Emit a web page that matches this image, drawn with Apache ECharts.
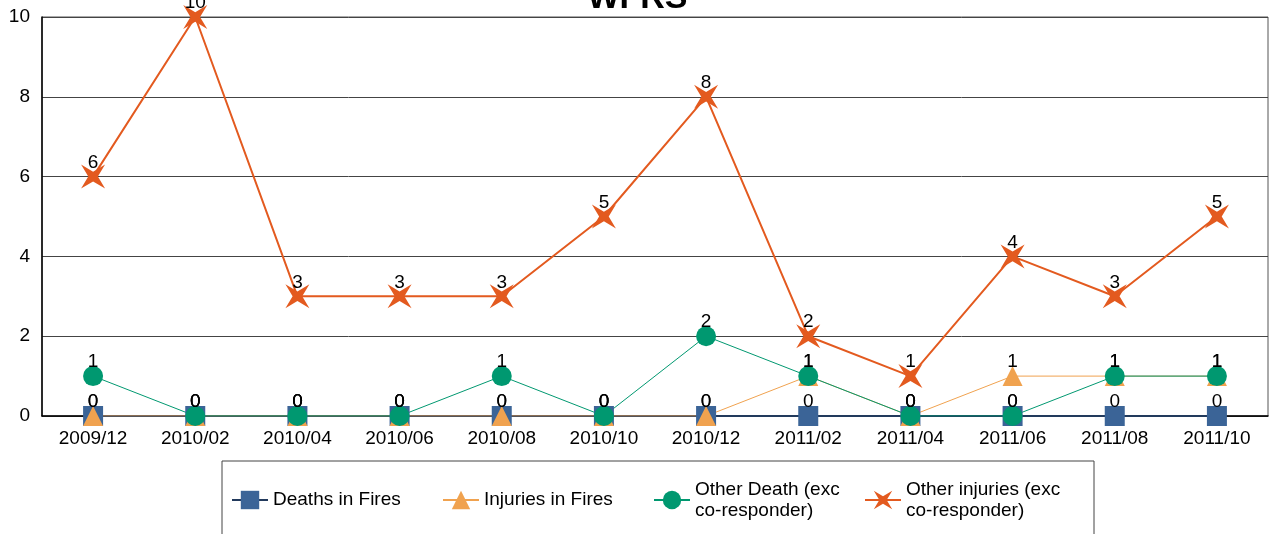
<!DOCTYPE html>
<html>
<head>
<meta charset="utf-8">
<script src="https://cdn.jsdelivr.net/npm/echarts@6/dist/echarts.min.js"></script>
<style>
  html, body { margin: 0; padding: 0; background: #fff; }
  #chart { width: 1275px; height: 534px; }
</style>
</head>
<body>
<div id="chart"></div>
<script>
const categories = ['2009/12', '2010/02', '2010/04', '2010/06', '2010/08', '2010/10',
  '2010/12', '2011/02', '2011/04', '2011/06', '2011/08', '2011/10']
const deathsInFires = [0, 0, 0, 0, 0, 0, 0, 0, 0, 0, 0, 0]
const injuriesInFires = [0, 0, 0, 0, 0, 0, 0, 1, 0, 1, 1, 1]
const otherDeath = [1, 0, 0, 0, 1, 0, 2, 1, 0, 0, 1, 1]
const otherInjuries = [6, 10, 3, 3, 3, 5, 8, 2, 1, 4, 3, 5]
const yTicks = [0, 2, 4, 6, 8, 10]

const font = 'Liberation Sans, Arial, sans-serif'
// four pointed star, tips on the diagonals
const starPath = 'path://M0,0 L10,6 L20,0 L14,10 L20,20 L10,14 L0,20 L6,10 Z'

function labelCfg() {
  return {
    show: true,
    position: 'inside',
    offset: [0, -14],
    color: '#000',
    textBorderWidth: 0,
    fontSize: 19,
    fontFamily: font
  }
}

const chart = echarts.init(document.getElementById('chart'), null, { renderer: 'canvas' })

chart.setOption({
  animation: false,
  title: {
    text: 'WFRS',
    left: 'center',
    top: -18,
    padding: 0,
    textStyle: { fontSize: 34, fontWeight: 'bold', color: '#000', fontFamily: font }
  },
  grid: {
    left: 42,
    right: 7,
    top: 17,
    bottom: 118,
    show: true,
    borderColor: '#555',
    borderWidth: 1
  },
  legend: {
    left: 222,
    top: 461,
    orient: 'horizontal',
    borderColor: '#444',
    borderWidth: 1,
    padding: [18, 24, 80, 9],
    itemWidth: 36,
    itemHeight: 23,
    itemGap: 5,
    textStyle: { fontSize: 19, color: '#000', fontFamily: font, width: 164, lineHeight: 21 },
    formatter: (name) => name.replace(' (exc ', ' (exc\n'),
    data: ['Deaths in Fires', 'Injuries in Fires', 'Other Death (exc co-responder)', 'Other injuries (exc co-responder)']
  },
  xAxis: {
    type: 'category',
    data: categories,
    boundaryGap: true,
    axisLine: { lineStyle: { color: '#000', width: 1.5 } },
    axisTick: { show: false },
    axisLabel: { color: '#000', fontSize: 19, fontFamily: font, margin: 13 },
    splitLine: { show: false }
  },
  yAxis: {
    type: 'value',
    min: yTicks[0],
    max: yTicks[yTicks.length - 1],
    interval: 2,
    axisLine: { show: true, lineStyle: { color: '#000', width: 1.5 } },
    axisTick: { show: false },
    axisLabel: { color: '#000', fontSize: 19, fontFamily: font, margin: 12 },
    splitLine: { lineStyle: { color: '#444', width: 1 } }
  },
  series: [
    {
      name: 'Deaths in Fires',
      type: 'line',
      data: deathsInFires,
      symbol: 'rect',
      symbolSize: 20,
      color: '#3B6497',
      lineStyle: { color: '#223a5c', width: 2 },
      label: labelCfg()
    },
    {
      name: 'Injuries in Fires',
      type: 'line',
      data: injuriesInFires,
      symbol: 'triangle',
      symbolSize: 20,
      color: '#F0A24F',
      lineStyle: { width: 1 },
      label: labelCfg()
    },
    {
      name: 'Other Death (exc co-responder)',
      type: 'line',
      data: otherDeath,
      symbol: 'circle',
      symbolSize: 20,
      color: '#009870',
      lineStyle: { width: 1 },
      label: labelCfg()
    },
    {
      name: 'Other injuries (exc co-responder)',
      type: 'line',
      data: otherInjuries,
      symbol: starPath,
      symbolSize: 24,
      color: '#E35A1F',
      lineStyle: { width: 2 },
      label: labelCfg()
    }
  ]
})
</script>
</body>
</html>
